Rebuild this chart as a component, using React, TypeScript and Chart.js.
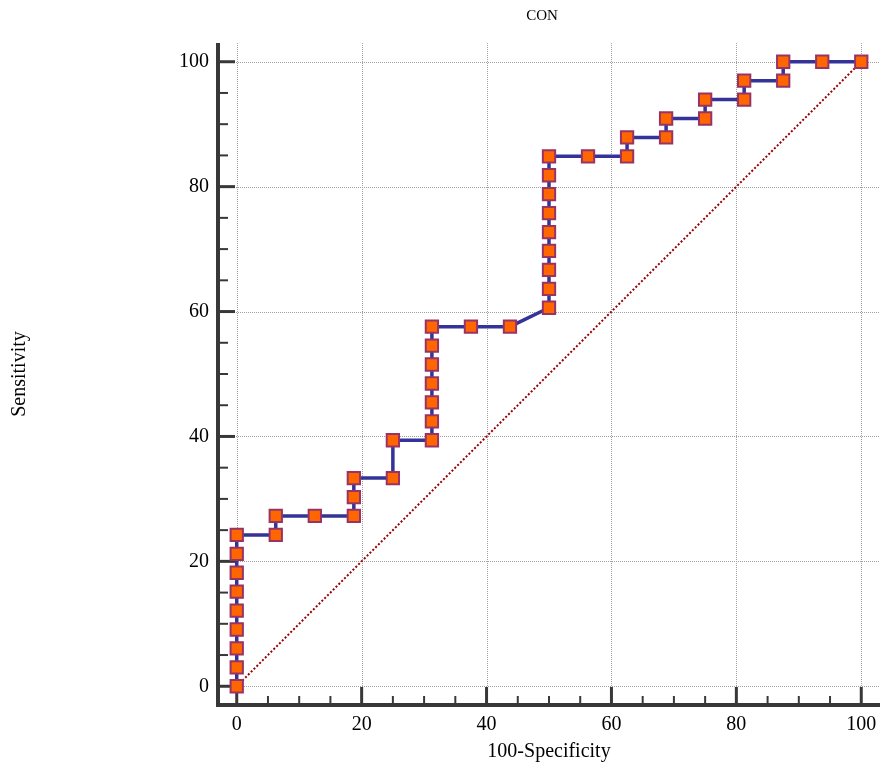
import React, { useEffect, useRef } from "react";
import { Chart, registerables } from "chart.js";

Chart.register(...registerables);

// 100-Specificity (x) and Sensitivity (y) of the ROC points
const fpr: number[] = [
  0, 0, 0, 0, 0, 0, 0, 0, 0,
  6.25, 6.25,
  12.5,
  18.75, 18.75, 18.75,
  25, 25,
  31.25, 31.25, 31.25, 31.25, 31.25, 31.25, 31.25,
  37.5,
  43.75,
  50, 50, 50, 50, 50, 50, 50, 50, 50,
  56.25,
  62.5, 62.5,
  68.75, 68.75,
  75, 75,
  81.25, 81.25,
  87.5, 87.5,
  93.75,
  100,
];
const sensitivity: number[] = [
  0, 3.03, 6.06, 9.09, 12.12, 15.15, 18.18, 21.21, 24.24,
  24.24, 27.27,
  27.27,
  27.27, 30.3, 33.33,
  33.33, 39.39,
  39.39, 42.42, 45.45, 48.48, 51.52, 54.55, 57.58,
  57.58,
  57.58,
  60.61, 63.64, 66.67, 69.7, 72.73, 75.76, 78.79, 81.82, 84.85,
  84.85,
  84.85, 87.88,
  87.88, 90.91,
  90.91, 93.94,
  93.94, 96.97,
  96.97, 100,
  100,
  100,
];
const diagonalX: number[] = [0, 100];
const diagonalY: number[] = [0, 100];
const majorTicks: number[] = [0, 20, 40, 60, 80, 100];
const minorTicks: number[] = [5, 10, 15, 25, 30, 35, 45, 50, 55, 65, 70, 75, 85, 90, 95];
const chartTitle = "CON";
const xTitle = "100-Specificity";
const yTitle = "Sensitivity";

const FONT = "'Liberation Serif', 'Times New Roman', serif";

const axesPlugin = {
  id: "rocAxes",
  beforeDatasetsDraw(chart: any) {
    const { ctx, chartArea, scales } = chart;
    const { left, right, top, bottom } = chartArea;
    const x = scales.x;
    const y = scales.y;
    ctx.save();
    // dotted grid
    ctx.strokeStyle = "#a0a0a0";
    ctx.lineWidth = 1;
    ctx.setLineDash([1, 1]);
    for (const v of majorTicks) {
      const px = Math.round(x.getPixelForValue(v)) + 0.5;
      ctx.beginPath();
      ctx.moveTo(px, top);
      ctx.lineTo(px, bottom);
      ctx.stroke();
      const py = Math.round(y.getPixelForValue(v)) + 0.5;
      ctx.beginPath();
      ctx.moveTo(left, py);
      ctx.lineTo(right, py);
      ctx.stroke();
    }
    ctx.setLineDash([]);
    ctx.strokeStyle = "#383838";
    // minor ticks
    ctx.lineWidth = 2;
    for (const v of minorTicks) {
      const px = x.getPixelForValue(v);
      ctx.beginPath();
      ctx.moveTo(px, bottom);
      ctx.lineTo(px, bottom - 9);
      ctx.stroke();
      const py = y.getPixelForValue(v);
      ctx.beginPath();
      ctx.moveTo(left, py);
      ctx.lineTo(left + 10, py);
      ctx.stroke();
    }
    // major ticks
    ctx.lineWidth = 3;
    for (const v of majorTicks) {
      const px = x.getPixelForValue(v);
      ctx.beginPath();
      ctx.moveTo(px, bottom);
      ctx.lineTo(px, bottom - 18);
      ctx.stroke();
      const py = y.getPixelForValue(v);
      ctx.beginPath();
      ctx.moveTo(left, py);
      ctx.lineTo(left + 17, py);
      ctx.stroke();
    }
    // axis lines
    ctx.lineWidth = 4;
    ctx.beginPath();
    ctx.moveTo(left, top);
    ctx.lineTo(left, bottom + 2);
    ctx.stroke();
    ctx.beginPath();
    ctx.moveTo(left - 2, bottom);
    ctx.lineTo(right, bottom);
    ctx.stroke();
    ctx.restore();
  },
  afterDraw(chart: any) {
    const { ctx } = chart;
    ctx.save();
    ctx.fillStyle = "#000";
    ctx.font = `15px ${FONT}`;
    ctx.textAlign = "center";
    ctx.textBaseline = "middle";
    ctx.fillText(chartTitle, 542, 16);
    ctx.restore();
  },
};

export default function App() {
  const ref = useRef<HTMLCanvasElement | null>(null);

  useEffect(() => {
    if (!ref.current) return;
    const roc = fpr.map((v, i) => ({ x: v, y: sensitivity[i] }));
    const diag = diagonalX.map((v, i) => ({ x: v, y: diagonalY[i] }));
    const setTicks = (scale: any) => {
      scale.ticks = majorTicks.map((v) => ({ value: v }));
    };
    const chart = new Chart(ref.current, {
      type: "line",
      data: {
        datasets: [
          {
            data: roc,
            borderColor: "#333399",
            borderWidth: 3.5,
            pointStyle: "rect",
            pointRadius: 8.7,
            pointBorderWidth: 2,
            pointBackgroundColor: "#ff6600",
            pointBorderColor: "#993366",
            tension: 0,
          },
          {
            data: diag,
            borderColor: "#990000",
            borderWidth: 2,
            borderDash: [2, 2],
            pointRadius: 0,
            tension: 0,
          },
        ],
      },
      plugins: [axesPlugin],
      options: {
        responsive: false,
        animation: false,
        events: [],
        layout: { autoPadding: false, padding: { top: 43, right: 4, bottom: 0, left: 0 } },
        plugins: {
          legend: { display: false },
          tooltip: { enabled: false },
          title: { display: false },
        },
        scales: {
          x: {
            type: "linear",
            min: -3,
            max: 103,
            afterBuildTicks: setTicks,
            afterFit: (s: any) => {
              s.height = 71;
              s.paddingLeft = 0;
              s.paddingRight = 0;
            },
            grid: { display: false, drawTicks: false },
            border: { display: false },
            ticks: {
              padding: 8,
              color: "#000",
              font: { family: FONT, size: 20 },
              maxRotation: 0,
            },
            title: {
              display: true,
              text: xTitle,
              color: "#000",
              font: { family: FONT, size: 20 },
              padding: { top: 0, bottom: 12 },
            },
          },
          y: {
            type: "linear",
            min: -3,
            max: 103,
            afterBuildTicks: setTicks,
            afterFit: (s: any) => {
              s.width = 218;
              s.paddingTop = 0;
              s.paddingBottom = 0;
            },
            grid: { display: false, drawTicks: false },
            border: { display: false },
            ticks: {
              padding: 9,
              color: "#000",
              font: { family: FONT, size: 20 },
            },
            title: {
              display: true,
              text: yTitle,
              color: "#000",
              font: { family: FONT, size: 20 },
              padding: { top: 8, bottom: 0 },
            },
          },
        },
      },
    });
    return () => chart.destroy();
  }, []);

  return (
    <div style={{ position: "fixed", left: 0, top: 0, width: 884, height: 776, background: "#fff" }}>
      <canvas ref={ref} width={884} height={776} style={{ display: "block" }} />
    </div>
  );
}
